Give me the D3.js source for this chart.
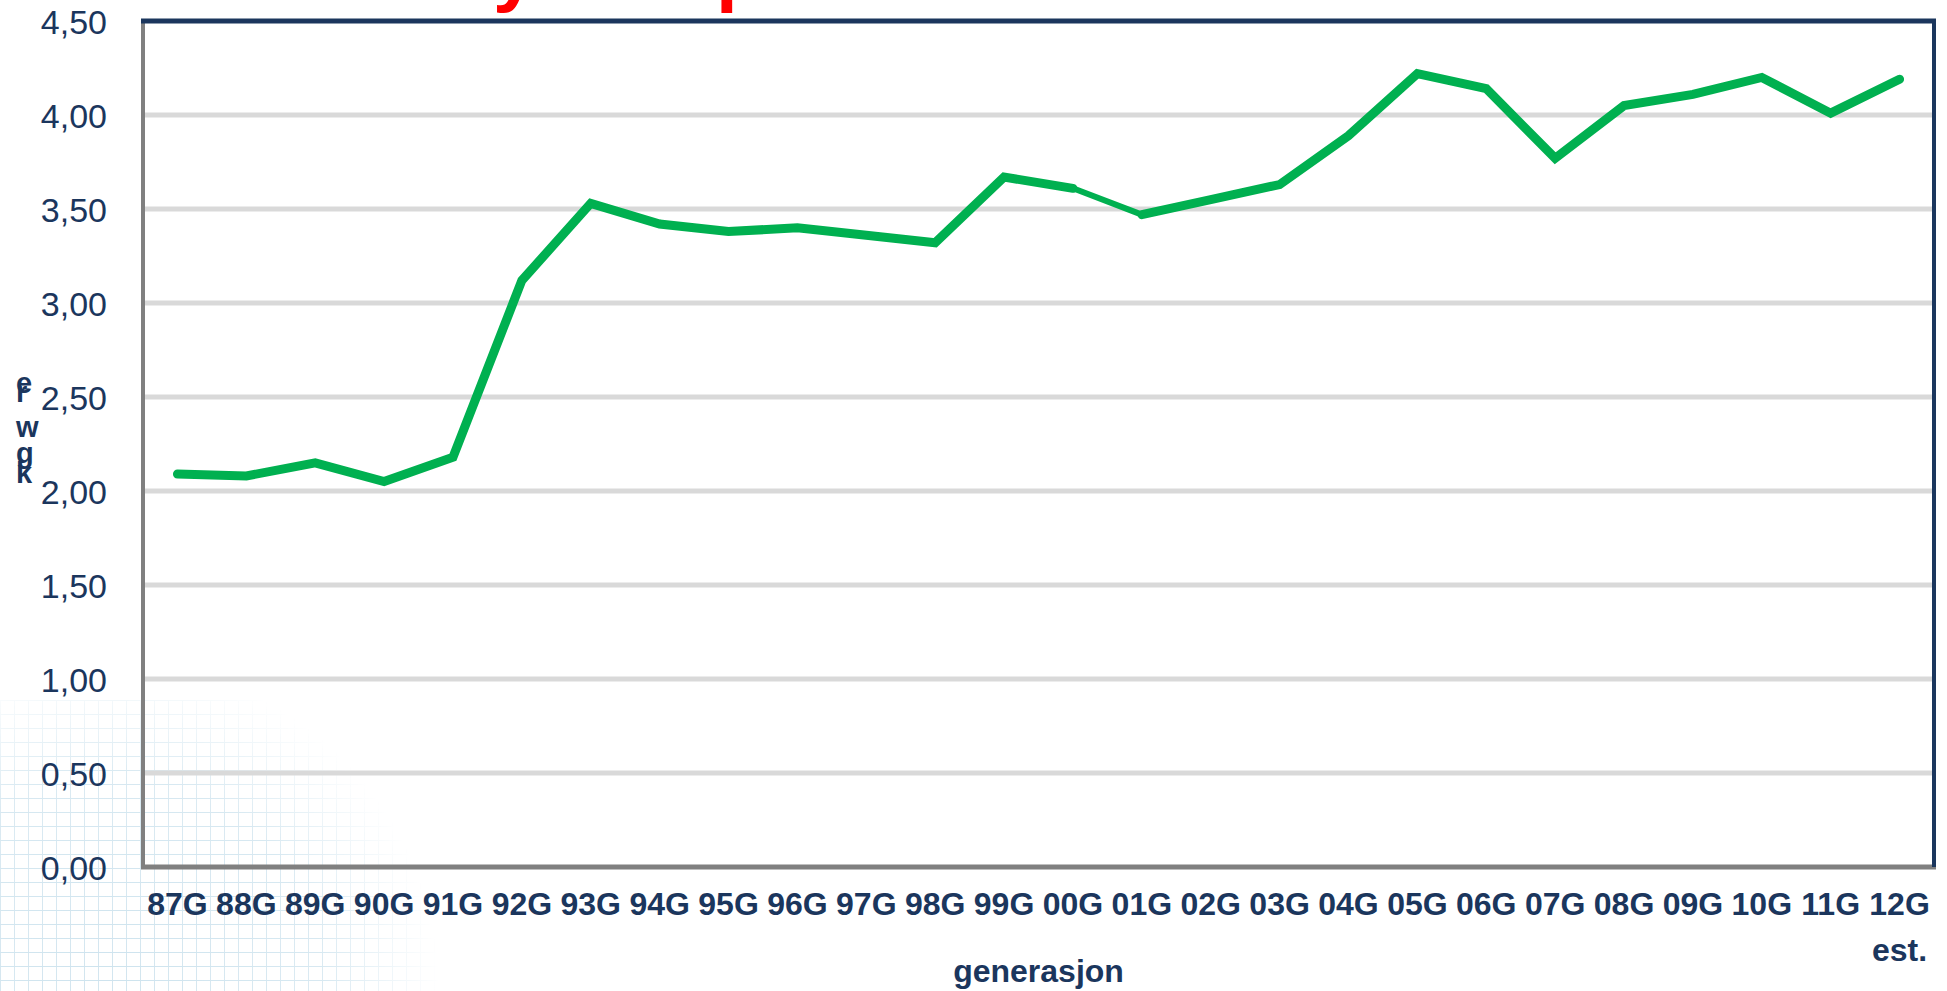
<!DOCTYPE html>
<html>
<head>
<meta charset="utf-8">
<script src="https://cdn.jsdelivr.net/npm/d3@7"></script>
<style>
  html, body { margin: 0; padding: 0; background: #ffffff; }
  svg { display: block; }
  text { font-family: "Liberation Sans", Arial, sans-serif; }
</style>
</head>
<body>
<svg id="chart" width="1947" height="991"></svg>
<script>
// generasjoner langs x-aksen
const categories = ["87G", "88G", "89G", "90G", "91G", "92G", "93G", "94G", "95G", "96G",
  "97G", "98G", "99G", "00G", "01G", "02G", "03G", "04G", "05G", "06G",
  "07G", "08G", "09G", "10G", "11G", "12G est."];

const values = [2.09, 2.08, 2.15, 2.05, 2.18, 3.12, 3.53, 3.42, 3.38, 3.40,
  3.36, 3.32, 3.67, 3.61, 3.47, 3.55, 3.63, 3.89, 4.22, 4.14,
  3.77, 4.05, 4.11, 4.20, 4.01, 4.19];

const yTicks = [0, 0.5, 1, 1.5, 2, 2.5, 3, 3.5, 4, 4.5];

// segmentet 00G -> 01G er tegnet tynnere i originalen
const thinFrom = "00G";
const thinTo = "01G";

const xTitle = "generasjon";
const yTitleGlyphs = ["e", "r", "w", "g", "k"];

const navy = "#1b365d";
const green = "#00b050";

const svg = d3.select("#chart");
const W = 1947, H = 991;
const plot = { left: 143, right: 1934, top: 21, bottom: 867 };

const nb = d3.formatLocale({ decimal: ",", thousands: " ", grouping: [3], currency: ["", " kr"] });
const fmt = nb.format(".2f");

const x = d3.scaleBand().domain(categories).range([plot.left, plot.right]);
const y = d3.scaleLinear().domain([0, 4.5]).range([plot.bottom, plot.top]);
const cx = (c) => x(c) + x.bandwidth() / 2;

// --- faint watermark grid in the bottom-left corner
const defs = svg.append("defs");
const pat = defs.append("pattern")
  .attr("id", "wm-grid")
  .attr("patternUnits", "userSpaceOnUse")
  .attr("width", 14).attr("height", 14);
pat.append("path")
  .attr("d", "M 14 0 L 0 0 0 14")
  .attr("fill", "none")
  .attr("stroke", "#cde3ee")
  .attr("stroke-width", 1.8);

const rg = defs.append("radialGradient")
  .attr("id", "wm-fade")
  .attr("gradientUnits", "userSpaceOnUse")
  .attr("cx", 110).attr("cy", H).attr("r", 330);
rg.append("stop").attr("offset", "0%").attr("stop-color", "white").attr("stop-opacity", 1);
rg.append("stop").attr("offset", "65%").attr("stop-color", "white").attr("stop-opacity", 0.8);
rg.append("stop").attr("offset", "100%").attr("stop-color", "white").attr("stop-opacity", 0);

defs.append("mask").attr("id", "wm-mask")
  .append("rect")
  .attr("width", W).attr("height", H)
  .attr("fill", "url(#wm-fade)");

svg.append("rect")
  .attr("x", 0).attr("y", 700)
  .attr("width", 450).attr("height", H - 700)
  .attr("fill", "url(#wm-grid)")
  .attr("mask", "url(#wm-mask)");

// --- red title, only the descenders are visible above the frame
const title = svg.append("text")
  .attr("y", -3)
  .attr("fill", "#ff0000")
  .attr("font-weight", "bold")
  .attr("font-size", 78);
title.append("tspan").attr("x", 493).text("y");
title.append("tspan").attr("x", 716).text("p");

// --- gridlines
svg.append("g")
  .selectAll("line")
  .data(yTicks.filter((d) => d > 0 && d < 4.5))
  .join("line")
  .attr("x1", plot.left)
  .attr("x2", plot.right)
  .attr("y1", (d) => y(d))
  .attr("y2", (d) => y(d))
  .attr("stroke", "#d9d9d9")
  .attr("stroke-width", 5);

// --- y axis labels
const yAxis = svg.append("g")
  .attr("transform", `translate(${plot.left},0)`)
  .call(d3.axisLeft(y).tickValues(yTicks).tickFormat(fmt).tickSize(0).tickPadding(36));
yAxis.select(".domain").remove();
yAxis.selectAll("text")
  .attr("font-family", "'Liberation Sans', Arial, sans-serif")
  .attr("font-size", 34)
  .attr("fill", navy)
  .attr("dy", "0.36em");

// --- x axis labels
const xAxis = svg.append("g")
  .attr("transform", `translate(0,${plot.bottom})`)
  .call(d3.axisBottom(x).tickSize(0));
xAxis.select(".domain").remove();
xAxis.selectAll("text")
  .attr("font-family", "'Liberation Sans', Arial, sans-serif")
  .attr("font-size", 32)
  .attr("font-weight", "bold")
  .attr("fill", navy)
  .attr("y", 48)
  .attr("dy", 0)
  .each(function (d) {
    const parts = d.split(" ");
    const t = d3.select(this).text(null);
    parts.forEach((p, i) => {
      t.append("tspan").attr("x", 0).attr("dy", i === 0 ? 0 : "1.45em").text(p);
    });
  });

// --- axis titles
svg.append("text")
  .attr("x", (plot.left + plot.right) / 2)
  .attr("y", 982)
  .attr("text-anchor", "middle")
  .attr("font-size", 32)
  .attr("font-weight", "bold")
  .attr("fill", navy)
  .text(xTitle);

const yTitleBase = [393, 402, 437, 463, 483];
const yt = svg.append("text")
  .attr("font-size", 29)
  .attr("font-weight", "bold")
  .attr("fill", navy);
yTitleGlyphs.forEach((g, i) => {
  yt.append("tspan").attr("x", 16).attr("y", yTitleBase[i]).text(g);
});

// --- data line
const points = categories.map((c, i) => ({ cat: c, value: values[i] }));
const line = d3.line().x((d) => cx(d.cat)).y((d) => y(d.value));

const iThin = categories.indexOf(thinFrom);
const iThinEnd = categories.indexOf(thinTo);

const lineG = svg.append("g")
  .attr("fill", "none")
  .attr("stroke", green)
  .attr("stroke-linejoin", "miter")
  .attr("stroke-linecap", "round");

lineG.append("path")
  .attr("d", line(points.slice(0, iThin + 1)))
  .attr("stroke-width", 9);
lineG.append("path")
  .attr("d", line(points.slice(iThin, iThinEnd + 1)))
  .attr("stroke-width", 6);
lineG.append("path")
  .attr("d", line(points.slice(iThinEnd)))
  .attr("stroke-width", 9);

// --- frame
const frame = svg.append("g");
frame.append("line")
  .attr("x1", plot.left).attr("x2", plot.left)
  .attr("y1", plot.top).attr("y2", plot.bottom + 2)
  .attr("stroke", "#808080").attr("stroke-width", 4);
frame.append("line")
  .attr("x1", plot.left - 2).attr("x2", plot.right + 2)
  .attr("y1", plot.bottom).attr("y2", plot.bottom)
  .attr("stroke", "#808080").attr("stroke-width", 5);
frame.append("line")
  .attr("x1", plot.right).attr("x2", plot.right)
  .attr("y1", plot.top).attr("y2", plot.bottom)
  .attr("stroke", navy).attr("stroke-width", 4);
frame.append("line")
  .attr("x1", plot.left - 2).attr("x2", plot.right + 2)
  .attr("y1", plot.top).attr("y2", plot.top)
  .attr("stroke", navy).attr("stroke-width", 5);
</script>
</body>
</html>
